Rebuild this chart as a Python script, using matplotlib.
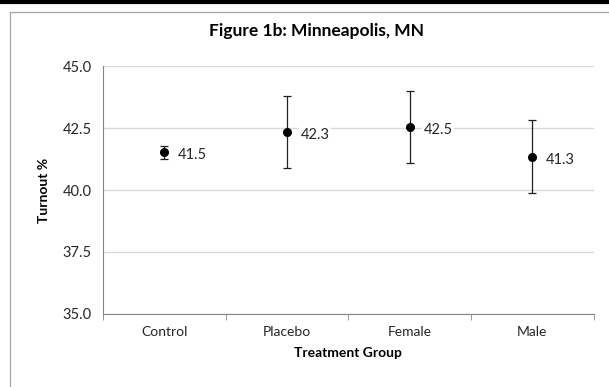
import numpy as np
import matplotlib
matplotlib.use('Agg')
import matplotlib.pyplot as plt
from matplotlib.lines import Line2D

groups = ["Control", "Placebo", "Female", "Male"]
turnout = [41.52, 42.34, 42.54, 41.34]
err = [0.25, 1.47, 1.45, 1.47]
yticks = [35.0, 37.5, 40.0, 42.5, 45.0]

plt.rcParams['font.family'] = ['Lato', 'DejaVu Sans']

fig = plt.figure(figsize=(6.09, 3.87), dpi=100)
ax = fig.add_axes([0.169, 0.189, 0.806, 0.640])

# chart frame and top rule like the source document
fig.add_artist(Line2D([0, 1], [0.995, 0.995], color="black", lw=3, transform=fig.transFigure))
fig.add_artist(Line2D([0.017, 0.017, 1.0], [0.0, 0.968, 0.968], color="#a6a6a6", lw=0.9,
                      transform=fig.transFigure))

x = np.arange(len(groups))
ax.errorbar(x, turnout, yerr=err, fmt="o", color="black", ms=5.5, ecolor="#202020",
            elinewidth=0.9, capsize=3, capthick=0.9, zorder=3)
for xi, v in zip(x, turnout):
    ax.annotate(f"{v:.1f}", (xi, v), xytext=(10, -2), textcoords="offset points",
                ha="left", va="center", fontsize=10.5, color="#262626",
                bbox=dict(fc="white", ec="none", pad=1))

ax.set_xlim(-0.5, len(groups) - 0.5)
ax.set_ylim(35, 45)
ax.set_yticks(yticks)
ax.set_yticklabels([f"{t:.1f}" for t in yticks], fontsize=10.5, color="#262626")
ax.set_xticks(x)
ax.set_xticklabels(groups, fontsize=10, color="#262626")
ax.set_xticks(np.arange(len(groups) + 1) - 0.5, minor=True)
ax.tick_params(axis="x", which="major", length=0, pad=9)
ax.tick_params(axis="x", which="minor", length=4, color="#868686")
ax.tick_params(axis="y", length=0, pad=8)
ax.yaxis.grid(True, color="#d9d9d9", lw=1)
ax.set_axisbelow(True)
for s in ["top", "right"]:
    ax.spines[s].set_visible(False)
for s in ["left", "bottom"]:
    ax.spines[s].set_color("#868686")

ax.set_xlabel("Treatment Group", fontsize=10, fontweight="bold", labelpad=6)
ax.set_ylabel("Turnout %", fontsize=10, fontweight="bold", labelpad=9)
fig.text(0.520, 0.92, "Figure 1b: Minneapolis, MN", ha="center", va="center",
         fontsize=12.5, fontweight="bold")

plt.savefig("out.png")
